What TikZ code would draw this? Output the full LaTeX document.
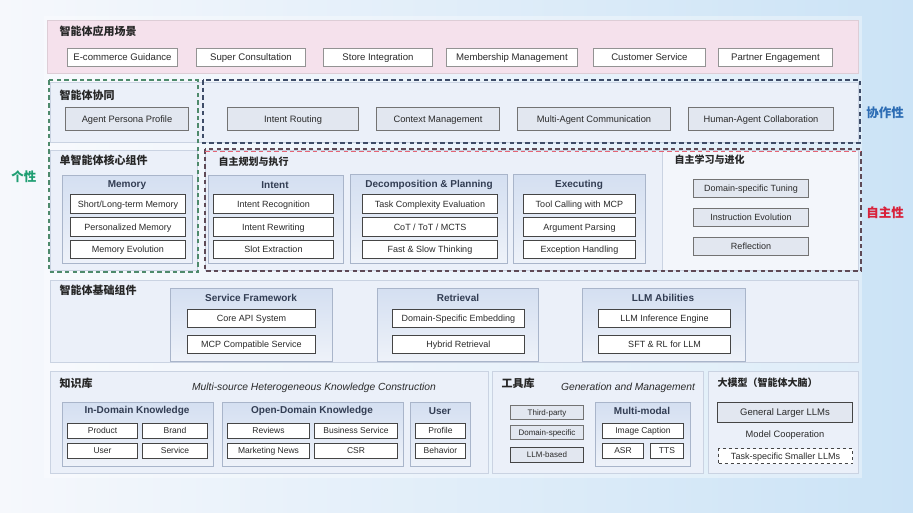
\documentclass[tikz,border=0pt]{standalone}
\usepackage{fontspec}
\setmainfont{Liberation Sans}
\setsansfont{Liberation Sans}
\newfontfamily\cjk{Noto Sans CJK SC}
\definecolor{bgL}{HTML}{F6F8FC}
\definecolor{bgR}{HTML}{CBE3F6}
\definecolor{pinkrow}{HTML}{F5E1EC}
\definecolor{rowfill}{HTML}{EBF0F9}
\definecolor{rowline}{HTML}{CAD3E2}
\definecolor{pantop}{HTML}{D4DFF1}
\definecolor{panbot}{HTML}{EEF2F9}
\definecolor{panline}{HTML}{A9B5CA}
\definecolor{itemline}{HTML}{454545}
\definecolor{grayfill}{HTML}{E2E7F0}
\definecolor{txt}{HTML}{2A2A2A}
\definecolor{greenC}{HTML}{1E9E72}
\definecolor{greenD}{HTML}{4E8A6C}
\definecolor{blueC}{HTML}{2D6DB4}
\definecolor{blueD}{HTML}{3E4C68}
\definecolor{redC}{HTML}{D8213A}
\definecolor{redD}{HTML}{5E4A56}
\tikzset{
  rowbox/.style={rectangle, draw=rowline, line width=0.6pt, fill=rowfill},
  item/.style={rectangle, draw=itemline, line width=1pt, fill=white, inner sep=1pt,
    text=txt, text height=6.3pt, text depth=0pt, font=\fontsize{9}{10.5}\selectfont},
  topitem/.style={item, draw=gray!85, line width=0.9pt, font=\fontsize{9.6}{11}\selectfont},
  gitem/.style={item, fill=grayfill, draw=gray!90!black},
  sitem/.style={item, text height=5.9pt, font=\fontsize{8.5}{10}\selectfont},
  panel/.style={rectangle, draw=panline, line width=0.6pt, top color=pantop, bottom color=panbot},
  ptitle/.style={font=\bfseries\fontsize{10}{12}\selectfont, text=blueD!80!black},
  zh/.style={anchor=west, font=\cjk\bfseries\fontsize{11}{13}\selectfont, text=black!85},
  zhs/.style={zh, font=\cjk\bfseries\fontsize{10}{12}\selectfont},
  side/.style={font=\cjk\bfseries\fontsize{12.5}{14}\selectfont},
  dashbox/.style={line width=1.5pt, dash pattern=on 4.5pt off 3.2pt},
  note/.style={font=\itshape\fontsize{10.3}{12}\selectfont, text=txt}
}
% \cell{name}{x1}{y1}{x2}{y2}{style}{text}
\newcommand\cell[7]{\node[#6, anchor=north west, minimum width={(#4-#2)*1pt},
  minimum height={(#5-#3)*1pt}] (#1) at (#2,#3) {#7};}
\begin{document}
\begin{tikzpicture}[x=1pt,y=-1pt]
\useasboundingbox (0,0) rectangle (913,512);
\shade[left color=bgL, right color=bgR] (0,0) rectangle (913,512);
\fill[white, opacity=0.35] (44,16) rectangle (862,478);

% ---------- application scenarios ----------
\cell{rowA}{47}{20}{858}{73}{rectangle, fill=pinkrow, draw=pinkrow!80!gray}{}
\node[zh] (tA) at (56,31) {智能体应用场景};
\cell{a1}{67}{48}{177}{66}{topitem}{E-commerce Guidance}
\cell{a2}{196}{48}{305}{66}{topitem}{Super Consultation}
\cell{a3}{323}{48}{432}{66}{topitem}{Store Integration}
\cell{a4}{446}{48}{577}{66}{topitem}{Membership Management}
\cell{a5}{593}{48}{705}{66}{topitem}{Customer Service}
\cell{a6}{718}{48}{832}{66}{topitem}{Partner Engagement}

% ---------- multi-agent collaboration ----------
\cell{rowB}{50}{82}{858}{142}{rowbox}{}
\node[zh] (tB) at (56,95) {智能体协同};
\cell{b1}{65}{107}{188}{130}{gitem, font=\fontsize{9.3}{11}\selectfont}{Agent Persona Profile}
\cell{b2}{227}{107}{358}{130}{gitem, font=\fontsize{9.3}{11}\selectfont}{Intent Routing}
\cell{b3}{376}{107}{499}{130}{gitem, font=\fontsize{9.3}{11}\selectfont}{Context Management}
\cell{b4}{517}{107}{670}{130}{gitem, font=\fontsize{9.3}{11}\selectfont}{Multi-Agent Communication}
\cell{b5}{688}{107}{833}{130}{gitem, font=\fontsize{9.3}{11}\selectfont}{Human-Agent Collaboration}

% ---------- single-agent core ----------
\cell{rowC1}{50}{150}{197}{270}{rowbox}{}
\cell{rowC2}{205}{150}{858}{270}{rowbox}{}
\cell{rowC3}{662}{150}{858}{270}{rowbox, fill=rowfill!60!white}{}
\node[zh] (tC) at (56,160) {单智能体核心组件};
\node[zhs] (tC2) at (215,162) {自主规划与执行};
\node[zhs] (tC3) at (671,160) {自主学习与进化};

\cell{pMem}{62}{175}{192}{263}{panel}{}
\node[ptitle] (hMem) at (127,185) {Memory};
\cell{m1}{70}{194}{185}{213}{item}{Short/Long-term Memory}
\cell{m2}{70}{217}{185}{236}{item}{Personalized Memory}
\cell{m3}{70}{240}{185}{258}{item}{Memory Evolution}

\cell{pInt}{208}{175}{343}{263}{panel}{}
\node[ptitle] (hInt) at (275,185) {Intent};
\cell{i1}{213}{194}{333}{213}{item}{Intent Recognition}
\cell{i2}{213}{217}{333}{236}{item}{Intent Rewriting}
\cell{i3}{213}{240}{333}{258}{item}{Slot Extraction}

\cell{pDec}{350}{174}{507}{263}{panel}{}
\node[ptitle] (hDec) at (429,185) {Decomposition \& Planning};
\cell{d1}{362}{194}{497}{213}{item}{Task Complexity Evaluation}
\cell{d2}{362}{217}{497}{236}{item}{CoT / ToT / MCTS}
\cell{d3}{362}{240}{497}{258}{item}{Fast \& Slow Thinking}

\cell{pExe}{513}{174}{645}{263}{panel}{}
\node[ptitle] (hExe) at (579,185) {Executing};
\cell{e1}{523}{194}{635}{213}{item}{Tool Calling with MCP}
\cell{e2}{523}{217}{635}{236}{item}{Argument Parsing}
\cell{e3}{523}{240}{635}{258}{item}{Exception Handling}

\cell{s1}{693}{179}{808}{197}{gitem}{Domain-specific Tuning}
\cell{s2}{693}{208}{808}{226}{gitem}{Instruction Evolution}
\cell{s3}{693}{237}{808}{255}{gitem}{Reflection}

% ---------- dashed groupings ----------
\draw[dashbox, draw=greenD] (49,80) rectangle (198,272);
\draw[dashbox, draw=blueD] (203,80) rectangle (860,143);
\draw[dashbox, draw=redD] (205,149) rectangle (861,271);
\draw[line width=0.5pt, draw=redC!70, dash pattern=on 4.5pt off 3.2pt] (205,151) -- (861,151);
\node[side, text=greenC] (lg) at (24,177) {个性};
\node[side, text=blueC] (lb) at (885,113) {协作性};
\node[side, text=redC] (lr) at (885,213) {自主性};

% ---------- agent basic components ----------
\cell{rowD}{50}{280}{858}{362}{rowbox}{}
\node[zh] (tD) at (56,290) {智能体基础组件};
\cell{pSrv}{170}{288}{332}{361}{panel}{}
\node[ptitle] (hSrv) at (251,298) {Service Framework};
\cell{f1}{187}{309}{315}{327}{item}{Core API System}
\cell{f2}{187}{335}{315}{353}{item}{MCP Compatible Service}

\cell{pRet}{377}{288}{538}{361}{panel}{}
\node[ptitle] (hRet) at (458,298) {Retrieval};
\cell{r1}{392}{309}{524}{327}{item}{Domain-Specific Embedding}
\cell{r2}{392}{335}{524}{353}{item}{Hybrid Retrieval}

\cell{pLLM}{582}{288}{745}{361}{panel}{}
\node[ptitle] (hLLM) at (663,298) {LLM Abilities};
\cell{l1}{598}{309}{730}{327}{item}{LLM Inference Engine}
\cell{l2}{598}{335}{730}{353}{item}{SFT \& RL for LLM}

% ---------- knowledge base ----------
\cell{rowK}{50}{371}{488}{473}{rowbox}{}
\node[zh] (tK) at (56,383) {知识库};
\node[note] (nK) at (314,388) {Multi-source Heterogeneous Knowledge Construction};
\cell{pIn}{62}{402}{213}{466}{panel}{}
\node[ptitle] (hIn) at (137,411) {In-Domain Knowledge};
\cell{k1}{67}{423}{137}{438}{sitem}{Product}
\cell{k2}{142}{423}{207}{438}{sitem}{Brand}
\cell{k3}{67}{443}{137}{458}{sitem}{User}
\cell{k4}{142}{443}{207}{458}{sitem}{Service}

\cell{pOp}{222}{402}{403}{466}{panel}{}
\node[ptitle] (hOp) at (312,411) {Open-Domain Knowledge};
\cell{o1}{227}{423}{309}{438}{sitem}{Reviews}
\cell{o2}{314}{423}{397}{438}{sitem}{Business Service}
\cell{o3}{227}{443}{309}{458}{sitem}{Marketing News}
\cell{o4}{314}{443}{397}{458}{sitem}{CSR}

\cell{pUs}{410}{402}{470}{466}{panel}{}
\node[ptitle] (hUs) at (440,411) {User};
\cell{u1}{415}{423}{465}{438}{sitem}{Profile}
\cell{u2}{415}{443}{465}{458}{sitem}{Behavior}

% ---------- tool library ----------
\cell{rowT}{492}{371}{703}{473}{rowbox}{}
\node[zh] (tT) at (498,383) {工具库};
\node[note] (nT) at (628,388) {Generation and Management};
\cell{t1}{510}{405}{583}{419}{gitem, text height=5.6pt, font=\fontsize{8}{9.6}\selectfont}{Third-party}
\cell{t2}{510}{425}{583}{439}{gitem, text height=5.6pt, font=\fontsize{8}{9.6}\selectfont}{Domain-specific}
\cell{t3}{510}{447}{583}{462}{gitem, draw=itemline, text height=5.6pt, font=\fontsize{8}{9.6}\selectfont}{LLM-based}
\cell{pMM}{595}{402}{690}{466}{panel}{}
\node[ptitle] (hMM) at (642,411) {Multi-modal};
\cell{mm1}{602}{423}{683}{438}{sitem}{Image Caption}
\cell{mm2}{602}{443}{643}{458}{sitem}{ASR}
\cell{mm3}{650}{443}{683}{458}{sitem}{TTS}

% ---------- large models ----------
\cell{rowL}{708}{371}{858}{473}{rowbox}{}
\node[zhs] (tL) at (714,383) {大模型（智能体大脑）};
\cell{g1}{717}{402}{852}{422}{gitem, draw=itemline, text height=6.6pt, font=\fontsize{9.5}{11}\selectfont}{General Larger LLMs}
\node[font=\fontsize{9.3}{11}\selectfont, text=txt] (g2) at (785,435) {Model Cooperation};
\cell{g3}{718}{448}{852}{463}{item, dashed, font=\fontsize{9}{10.5}\selectfont}{Task-specific Smaller LLMs}
\end{tikzpicture}
\end{document}
